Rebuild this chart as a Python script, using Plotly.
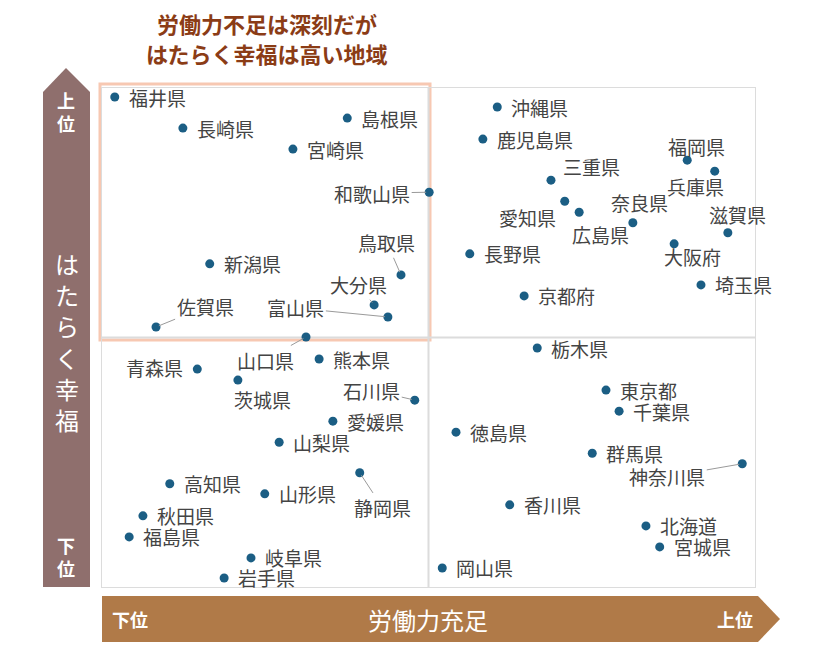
import plotly.graph_objects as go

# ---- data (scores 0-100) ----
prefs = ["福井県","長崎県","島根県","宮崎県","和歌山県","鳥取県","新潟県","大分県","富山県","佐賀県","山口県",
         "沖縄県","鹿児島県","福岡県","兵庫県","三重県","愛知県","広島県","奈良県","滋賀県","大阪府","長野県","京都府","埼玉県",
         "青森県","茨城県","熊本県","石川県","愛媛県","山梨県","静岡県","高知県","山形県","秋田県","福島県","岐阜県","岩手県",
         "栃木県","東京都","千葉県","徳島県","群馬県","神奈川県","香川県","北海道","宮城県","岡山県"]
labor = [2.1,12.5,37.6,29.3,50.1,45.8,16.6,41.7,43.8,8.4,31.3,
         60.5,58.3,89.5,93.7,68.7,70.8,73.0,81.2,95.7,87.5,56.3,64.6,91.6,
         14.7,20.9,33.3,47.9,35.4,27.2,39.5,10.5,25.0,6.4,4.3,22.9,18.8,
         66.6,77.1,79.1,54.2,75.0,97.9,62.4,83.2,85.3,52.1]
happy = [98.0,91.8,93.8,87.6,79.0,62.5,64.7,56.5,54.1,52.1,50.1,
         96.0,89.6,85.4,83.2,81.4,77.2,75.0,72.9,70.9,68.7,66.7,58.3,60.5,
         43.7,41.5,45.7,37.5,33.3,29.1,23.0,20.8,18.8,14.4,10.2,6.0,2.0,
         47.9,39.5,35.3,31.1,26.9,24.8,16.6,12.4,8.2,4.0]
mid_x = 50
mid_y = 50
title_lines = ["労働力不足は深刻だが", "はたらく幸福は高い地域"]

# ---- label placement (pixels) ----
# leader-line labels: (ax, ay) offset of text centre from dot
leader = {"和歌山県": (-57, 1), "鳥取県": (-14, -32), "大分県": (-16, -20), "富山県": (-92, -9),
          "佐賀県": (49, -20), "山口県": (-41, 23), "石川県": (-43, -10), "静岡県": (23, 35),
          "神奈川県": (-75, 13)}
# free labels: (xshift, yshift, xanchor)
free = {"福岡県": (9, 14, "center"), "兵庫県": (-19, -15, "center"), "三重県": (41, 14, "center"),
        "愛知県": (-37, -16, "center"), "広島県": (21, -22, "center"), "奈良県": (7, 20, "center"),
        "滋賀県": (10, 18, "center"), "大阪府": (18, -13, "center"), "青森県": (-12, 2, "right"),
        "茨城県": (25, -19, "center")}

# page body has an 8px margin; figure is laid out so plot area hits the reference pixels
OFF = 8
W, H = 824, 644
L, T = 101 - OFF, 87 - OFF
R = W - (756 - OFF)
B = H - (588 - OFF)
PW, PH = W - L - R, H - T - B

def px(x):
    return (x - OFF - L) / PW

def py(y):
    return (H - B - (y - OFF)) / PH

FONT = "Noto Sans CJK JP, Noto Sans, sans-serif"
TXT = "#444444"
DOT = "#1b5e84"
LS = 19

fig = go.Figure()
fig.add_trace(go.Scatter(x=labor, y=happy, mode="markers",
                         marker=dict(size=9, color=DOT), cliponaxis=False,
                         hoverinfo="text", text=prefs))

ann = []
for name, xv, yv in zip(prefs, labor, happy):
    if name in leader:
        ax, ay = leader[name]
        ann.append(dict(x=xv, y=yv, xref="x", yref="y", text=name, showarrow=True,
                        ax=ax, ay=ay, axref="pixel", ayref="pixel", arrowhead=0,
                        arrowwidth=1, arrowcolor="#9a9a9a", standoff=3, startstandoff=1,
                        font=dict(size=LS, color=TXT, family=FONT), borderpad=0))
    elif name in free:
        xs, ys, xa = free[name]
        ann.append(dict(x=xv, y=yv, xref="x", yref="y", text=name, showarrow=False,
                        xshift=xs, yshift=ys, xanchor=xa, yanchor="middle",
                        font=dict(size=LS, color=TXT, family=FONT)))
    else:
        ann.append(dict(x=xv, y=yv, xref="x", yref="y", text=name, showarrow=False,
                        xshift=12, yshift=0, xanchor="left", yanchor="middle",
                        font=dict(size=LS, color=TXT, family=FONT)))

# title
for i, t in enumerate(title_lines):
    ann.append(dict(x=px(267), y=py(23 + 30 * i), xref="paper", yref="paper", text="<b>" + t + "</b>",
                    showarrow=False, xanchor="center", yanchor="middle",
                    font=dict(size=22, color="#8b3c16", family=FONT)))

# y arrow labels
ann.append(dict(x=px(66), y=py(111), xref="paper", yref="paper", text="<b>上<br>位</b>", showarrow=False,
                font=dict(size=18, color="white", family=FONT), xanchor="center", yanchor="middle"))
ann.append(dict(x=px(67), y=py(341), xref="paper", yref="paper", text="は<br>た<br>ら<br>く<br>幸<br>福",
                showarrow=False, font=dict(size=24, color="white", family=FONT),
                xanchor="center", yanchor="middle"))
ann.append(dict(x=px(66), y=py(556), xref="paper", yref="paper", text="<b>下<br>位</b>", showarrow=False,
                font=dict(size=18, color="white", family=FONT), xanchor="center", yanchor="middle"))
# x arrow labels
ann.append(dict(x=px(130), y=py(619), xref="paper", yref="paper", text="<b>下位</b>", showarrow=False,
                font=dict(size=18, color="white", family=FONT), xanchor="center", yanchor="middle"))
ann.append(dict(x=px(428), y=py(619), xref="paper", yref="paper", text="労働力充足", showarrow=False,
                font=dict(size=24, color="white", family=FONT), xanchor="center", yanchor="middle"))
ann.append(dict(x=px(735), y=py(619), xref="paper", yref="paper", text="<b>上位</b>", showarrow=False,
                font=dict(size=18, color="white", family=FONT), xanchor="center", yanchor="middle"))

def poly(pts):
    return "M " + " L ".join(f"{px(a):.5f},{py(b):.5f}" for a, b in pts) + " Z"

shapes = [
    # frame
    dict(type="rect", xref="x", yref="y", x0=0, x1=100, y0=0, y1=100,
         line=dict(color="#dcdcdc", width=2), layer="below"),
    dict(type="line", xref="x", yref="y", x0=mid_x, x1=mid_x, y0=0, y1=100,
         line=dict(color="#dcdcdc", width=2), layer="below"),
    dict(type="line", xref="x", yref="y", x0=0, x1=100, y0=mid_y, y1=mid_y,
         line=dict(color="#dcdcdc", width=2), layer="below"),
    # highlight box
    dict(type="rect", xref="paper", yref="paper", x0=px(100), x1=px(430), y0=py(340), y1=py(84),
         line=dict(color="#f7c8b2", width=3), layer="below"),
    # y arrow
    dict(type="path", xref="paper", yref="paper",
         path=poly([(43, 587), (43, 92), (66, 68), (90, 92), (90, 587)]),
         fillcolor="#8f6f6d", line=dict(width=0), layer="below"),
    # x arrow
    dict(type="path", xref="paper", yref="paper",
         path=poly([(102, 596), (758, 596), (780, 619), (758, 642), (102, 642)]),
         fillcolor="#b07a48", line=dict(width=0), layer="below"),
]

fig.update_layout(
    width=W, height=H, margin=dict(l=L, r=R, t=T, b=B),
    paper_bgcolor="white", plot_bgcolor="white", showlegend=False,
    xaxis=dict(range=[0, 100], visible=False, fixedrange=True),
    yaxis=dict(range=[0, 100], visible=False, fixedrange=True),
    annotations=ann, shapes=shapes, font=dict(family=FONT),
)

fig.write_html("out.html")
